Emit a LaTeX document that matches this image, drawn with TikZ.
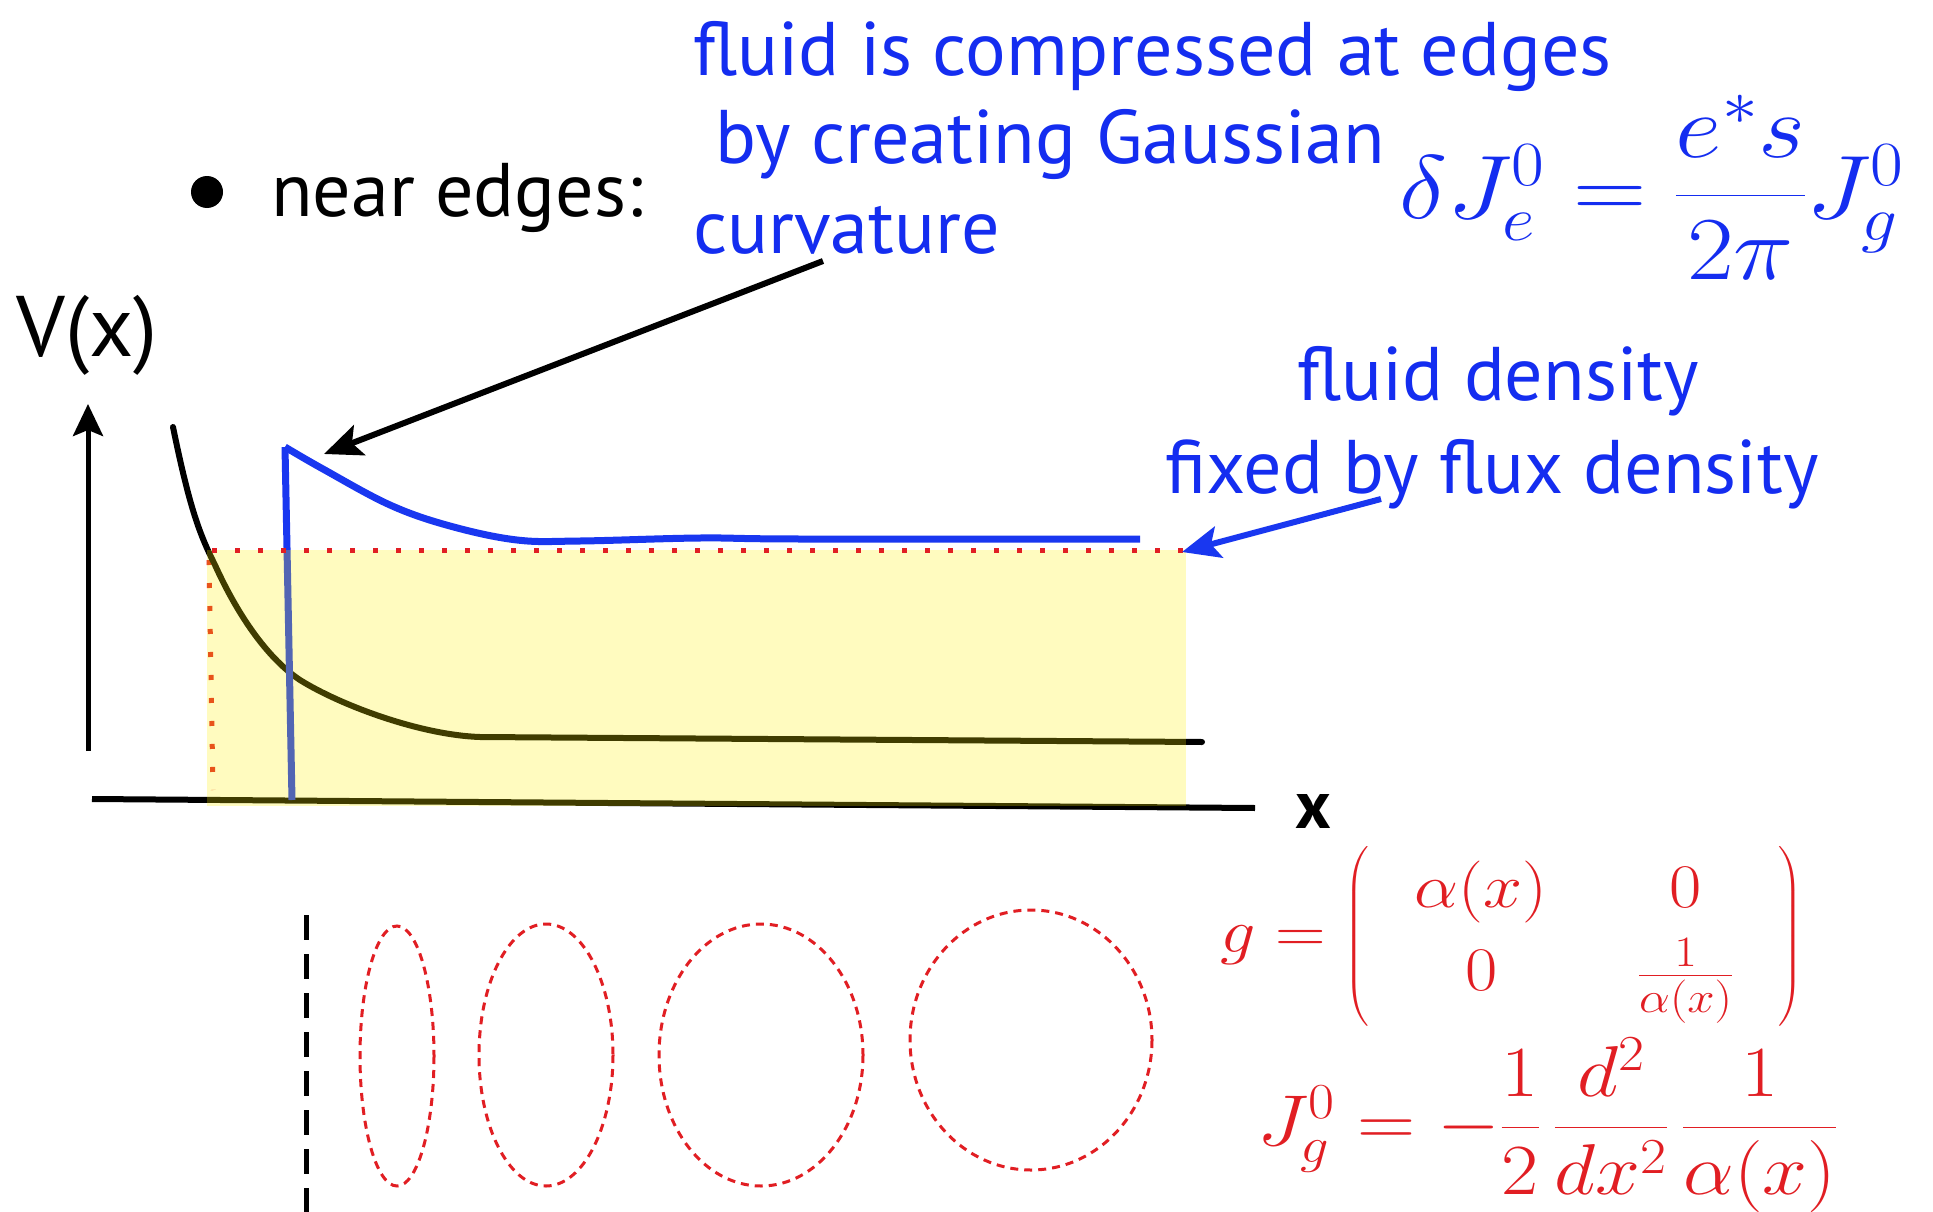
\RequirePackage{fix-cm}
\documentclass[tikz,border=0pt]{standalone}
\usepackage{graphicx}
\usepackage{fontspec}
\usepackage{amsmath}
\setmainfont{PT Sans}
\usetikzlibrary{arrows.meta}
\definecolor{tblue}{RGB}{20,45,240}
\definecolor{cblue}{RGB}{25,55,240}
\definecolor{tred}{RGB}{225,30,35}
\begin{document}
\begin{tikzpicture}[x=1pt,y=-1pt,
  bluetext/.style={text=tblue, font=\fontsize{76}{88}\selectfont, inner sep=0pt, anchor=base west},
  blacktext/.style={text=black, font=\fontsize{76}{88}\selectfont, inner sep=0pt, anchor=base west},
  potline/.style={line width=6pt, black, line join=round, line cap=round},
  densline/.style={line width=7pt, cblue, line join=round},
  reddots/.style={tred, line width=5pt, dash pattern=on 5pt off 18pt},
  redell/.style={tred, line width=3pt, dash pattern=on 8pt off 6pt},
  pointer/.style={line width=6pt, -{Stealth[length=38pt,width=32pt,inset=8pt]}}
]
\useasboundingbox[fill=white] (0,0) rectangle (1933,1212);

% texts
\fill (207,192) circle (16);
\node[blacktext] (near) at (271,216) {near edges:};
\node[bluetext] (t1) at (693,76) {fluid is compressed at edges};
\node[bluetext] (t2) at (715,164) {by creating Gaussian};
\node[bluetext] (t3) at (693,253) {curvature};
\node[text=tblue, inner sep=0pt, anchor=base west, font=\fontsize{90}{100}\selectfont] (dj) at (1399,218)
  {\scalebox{1.13}[1]{$\delta J^0_e = \dfrac{e^* s}{2\pi}J^0_g$}};
\node[blacktext, font=\fontsize{86}{98}\selectfont] (V) at (16,356) {V(x)};
\node[bluetext] (fd1) at (1297,400) {fluid density};
\node[bluetext] (fd2) at (1165,493) {fixed by flux density};
\node[blacktext, font=\fontsize{68}{80}\selectfont\bfseries] (X) at (1295,828) {x};

% under-layer
\draw[reddots] (209,560) -- (213,790);
\draw[potline] (173,427) .. controls (190,510) and (200,535) .. (215,565)
   .. controls (240,620) and (270,660) .. (300,680)
   .. controls (340,705) and (420,735) .. (480,737) -- (1202,742);
\draw[line width=6pt, black] (92,799) -- (1255,808);
\draw[densline] (292,800) -- (285,447);
\fill[yellow, fill opacity=0.25] (207,550) rectangle (1186,806);
\draw[reddots] (212,550) -- (1183,550);
\draw[densline] plot[smooth, tension=0.6] coordinates {(285,447) (323,469) (390,505) (450,526) (517,540) (580,541) (700,538) (800,539) (1140,539)};

% axis
\coordinate (vb) at (88,751);
\coordinate (vt) at (88,404);
\draw[line width=5pt, -{Stealth[length=32pt,width=30pt,inset=6pt]}] (vb) -- (vt);

% pointers
\coordinate (a1s) at (823,261);
\coordinate (a1e) at (324,454);
\draw[pointer] (a1s) -- (a1e);
\coordinate (a2s) at (1381,499);
\coordinate (a2e) at (1182,552);
\draw[pointer, cblue] (a2s) -- (a2e);

% ellipses
\draw[line width=5pt, dash pattern=on 25pt off 14pt] (306,915) -- (306,1212);
\draw[redell] (397,1056) ellipse [x radius=37, y radius=130];
\draw[redell] (546,1055) ellipse [x radius=67, y radius=131];
\draw[redell] (761,1055) ellipse [x radius=102, y radius=131];
\draw[redell] (1031,1040) ellipse [x radius=121, y radius=130];

% red formulas
\node[text=tred, inner sep=0pt, anchor=base west, font=\fontsize{62}{74}\selectfont] (gm) at (1220,952)
  {\scalebox{1.13}[1]{$g = \left( \arraycolsep=40pt\renewcommand{\arraystretch}{1.12}\begin{array}{cc} \alpha(x) & 0\\ 0 & \frac{1}{\alpha(x)}\end{array}\right)$}};
\node[text=tred, inner sep=0pt, anchor=base west, font=\fontsize{72}{84}\selectfont] (jg) at (1257,1145)
  {\scalebox{1.12}[1]{$J^0_g = -\dfrac{1}{2}\,\dfrac{d^2}{dx^2}\,\dfrac{1}{\alpha(x)}$}};
\end{tikzpicture}
\end{document}
